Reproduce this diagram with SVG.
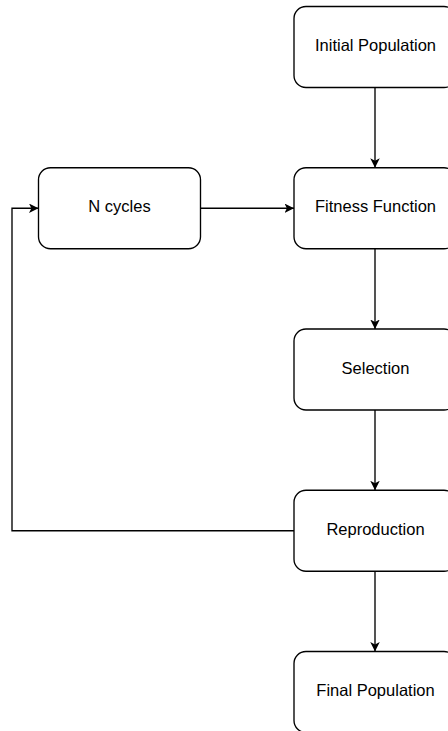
<svg xmlns="http://www.w3.org/2000/svg" width="448" height="731" viewBox="0 0 448 731">
<style>
.box{fill:#fff;stroke:#000;stroke-width:1.35}
.lbl{font-family:"Liberation Sans",Arial,sans-serif;font-size:16.5px;fill:#000;text-anchor:middle}
.edge{fill:none;stroke:#000;stroke-width:1.35}
</style>
<defs>
<marker id="arr" viewBox="0 0 10 10" refX="10" refY="5" markerWidth="9.5" markerHeight="9.5" markerUnits="userSpaceOnUse" orient="auto">
<path d="M0,0 L10,5 L0,10 L2.5,5 Z" fill="#000"/>
</marker>
</defs>
<rect width="448" height="731" fill="#fff"/>
<g id="edges">
<path class="edge" d="M375,87.5 V167.75" marker-end="url(#arr)"/>
<path class="edge" d="M375,248.75 V329" marker-end="url(#arr)"/>
<path class="edge" d="M375,410 V490.25" marker-end="url(#arr)"/>
<path class="edge" d="M375,571.25 V651.5" marker-end="url(#arr)"/>
<path class="edge" d="M200.5,208.25 H294" marker-end="url(#arr)"/>
<path class="edge" d="M294,530.75 H12 V208.25 H38.5" marker-end="url(#arr)"/>
</g>
<g id="initial">
<rect class="box" x="294" y="6.5" width="162" height="81" rx="12" ry="12"/>
<text class="lbl" x="375.5" y="51">Initial Population</text>
</g>
<g id="fitness">
<rect class="box" x="294" y="167.75" width="162" height="81" rx="12" ry="12"/>
<text class="lbl" x="375.5" y="212.3">Fitness Function</text>
</g>
<g id="ncycles">
<rect class="box" x="38.5" y="167.75" width="162" height="81" rx="12" ry="12"/>
<text class="lbl" x="119.5" y="212.3">N cycles</text>
</g>
<g id="selection">
<rect class="box" x="294" y="329" width="162" height="81" rx="12" ry="12"/>
<text class="lbl" x="375.5" y="373.5">Selection</text>
</g>
<g id="reproduction">
<rect class="box" x="294" y="490.25" width="162" height="81" rx="12" ry="12"/>
<text class="lbl" x="375.5" y="534.8">Reproduction</text>
</g>
<g id="final">
<rect class="box" x="294" y="651.5" width="162" height="81" rx="12" ry="12"/>
<text class="lbl" x="375.5" y="696">Final Population</text>
</g>
</svg>
